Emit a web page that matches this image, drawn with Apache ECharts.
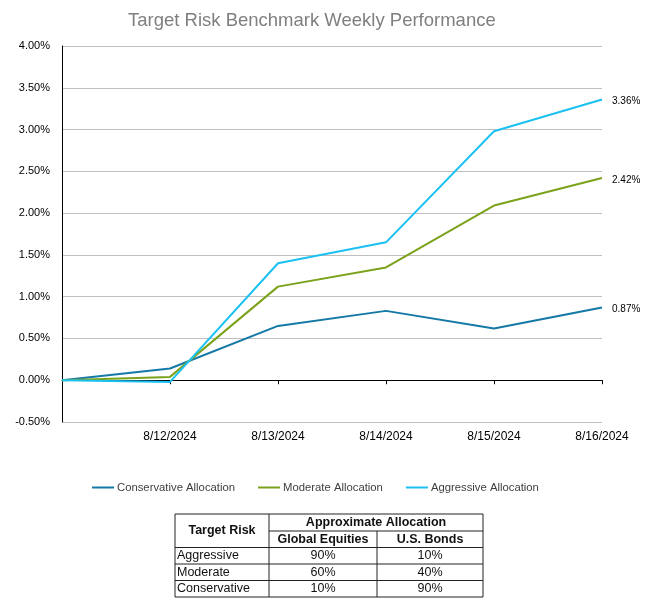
<!DOCTYPE html>
<html><head><meta charset="utf-8">
<script src="https://cdn.jsdelivr.net/npm/echarts@6/dist/echarts.min.js"></script>
<style>html,body{margin:0;padding:0;background:#fff}#c{width:657px;height:608px}</style>
</head><body><div id="c"></div>
<script>
var titleText = 'Target Risk Benchmark Weekly Performance';
var dates = ['', '8/12/2024', '8/13/2024', '8/14/2024', '8/15/2024', '8/16/2024'];
var seriesNames = ['Conservative Allocation', 'Moderate Allocation', 'Aggressive Allocation'];
var conservative = [0, 0.14, 0.65, 0.83, 0.62, 0.87];
var moderate = [0, 0.04, 1.12, 1.35, 2.09, 2.42];
var aggressive = [0, -0.02, 1.40, 1.65, 2.98, 3.36];
var colors = ['#1479A6', '#7BA21A', '#1BC1F2'];

var tableRowHeader = 'Target Risk';
var tableGroupHeader = 'Approximate Allocation';
var tableColHeaders = ['Global Equities', 'U.S. Bonds'];
var tableRiskLabels = ['Aggressive', 'Moderate', 'Conservative'];
var tableEquities = ['90%', '60%', '10%'];
var tableBonds = ['10%', '40%', '90%'];

var F = 'Liberation Sans, Arial, sans-serif';
var chart = echarts.init(document.getElementById('c'));

// table layout
var tx = [175, 269, 377, 483];
var ty0 = 514, tyMid = 531, tyHead = 547.5, rowH = 16.5;
var g = [];
var lineColor = '#222';
function hline(x1, x2, y) { g.push({type:'line', shape:{x1:x1,y1:y,x2:x2,y2:y}, style:{stroke:lineColor, lineWidth:1}}); }
function vline(x, y1, y2) { g.push({type:'line', shape:{x1:x,y1:y1,x2:x,y2:y2}, style:{stroke:lineColor, lineWidth:1}}); }
function txt(s, x, y, align, bold) {
  g.push({type:'text', x:x, y:y, style:{text:s, fill:'#111', font:(bold?'bold ':'')+'12.5px '+F, textAlign:align, textVerticalAlign:'middle'}});
}
var tyEnd = tyHead + rowH * tableRiskLabels.length;
hline(tx[0], tx[3], ty0);
hline(tx[1], tx[3], tyMid);
hline(tx[0], tx[3], tyHead);
for (var i = 1; i <= tableRiskLabels.length; i++) hline(tx[0], tx[3], tyHead + rowH * i);
vline(tx[0], ty0, tyEnd);
vline(tx[1], ty0, tyEnd);
vline(tx[2], tyMid, tyEnd);
vline(tx[3], ty0, tyEnd);
txt(tableRowHeader, (tx[0]+tx[1])/2, (ty0+tyHead)/2, 'center', true);
txt(tableGroupHeader, (tx[1]+tx[3])/2, (ty0+tyMid)/2, 'center', true);
txt(tableColHeaders[0], (tx[1]+tx[2])/2, (tyMid+tyHead)/2, 'center', true);
txt(tableColHeaders[1], (tx[2]+tx[3])/2, (tyMid+tyHead)/2, 'center', true);
for (var r = 0; r < tableRiskLabels.length; r++) {
  var cy = tyHead + rowH * r + rowH / 2;
  txt(tableRiskLabels[r], tx[0] + 2, cy, 'left', false);
  txt(tableEquities[r], (tx[1]+tx[2])/2, cy, 'center', false);
  txt(tableBonds[r], (tx[2]+tx[3])/2, cy, 'center', false);
}

function mk(name, data, color) {
  return {
    name: name, type: 'line', data: data, xAxisIndex: 0, symbol: 'none',
    lineStyle: {color: color, width: 2}, itemStyle: {color: color},
    endLabel: {show: true, distance: 10, fontSize: 10, fontFamily: F, color: '#000', offset: [0, 2],
      formatter: function (p) { return p.value.toFixed(2) + '%'; }},
    animation: false
  };
}

chart.setOption({
  animation: false,
  title: {text: titleText, left: 123, top: 6, textStyle: {fontFamily: F, fontSize: 18.5, fontWeight: 'normal', color: '#7F7F7F'}},
  grid: {left: 62, right: 55, top: 46, bottom: 186},
  legend: {data: seriesNames, top: 477, left: 86, itemWidth: 22, itemHeight: 2, itemGap: 22,
    textStyle: {fontFamily: F, fontSize: 11.3, color: '#404040', padding: [0, 0, 0, -2]}},
  xAxis: [
    {type: 'category', data: dates, boundaryGap: false, position: 'bottom',
      axisLine: {show: false, onZero: false}, axisTick: {show: false},
      axisLabel: {fontFamily: F, fontSize: 12, color: '#000', margin: 9, interval: 0}},
    {type: 'category', data: dates, boundaryGap: false, position: 'bottom',
      axisLine: {show: true, onZero: true, lineStyle: {color: '#000', width: 1}},
      axisTick: {show: true, length: 4, alignWithLabel: true, interval: 0, lineStyle: {color: '#000'}},
      axisLabel: {show: false}, splitLine: {show: false}}
  ],
  yAxis: {type: 'value', min: -0.5, max: 4, interval: 0.5,
    axisLine: {show: true, lineStyle: {color: '#000', width: 1}}, axisTick: {show: false},
    axisLabel: {fontFamily: F, fontSize: 11, color: '#000', margin: 12, formatter: function (v) { return v.toFixed(2) + '%'; }},
    splitLine: {lineStyle: {color: '#BFBFBF', width: 1}}},
  series: [mk(seriesNames[0], conservative, colors[0]), mk(seriesNames[1], moderate, colors[1]), mk(seriesNames[2], aggressive, colors[2])],
  graphic: g
});
</script></body></html>
